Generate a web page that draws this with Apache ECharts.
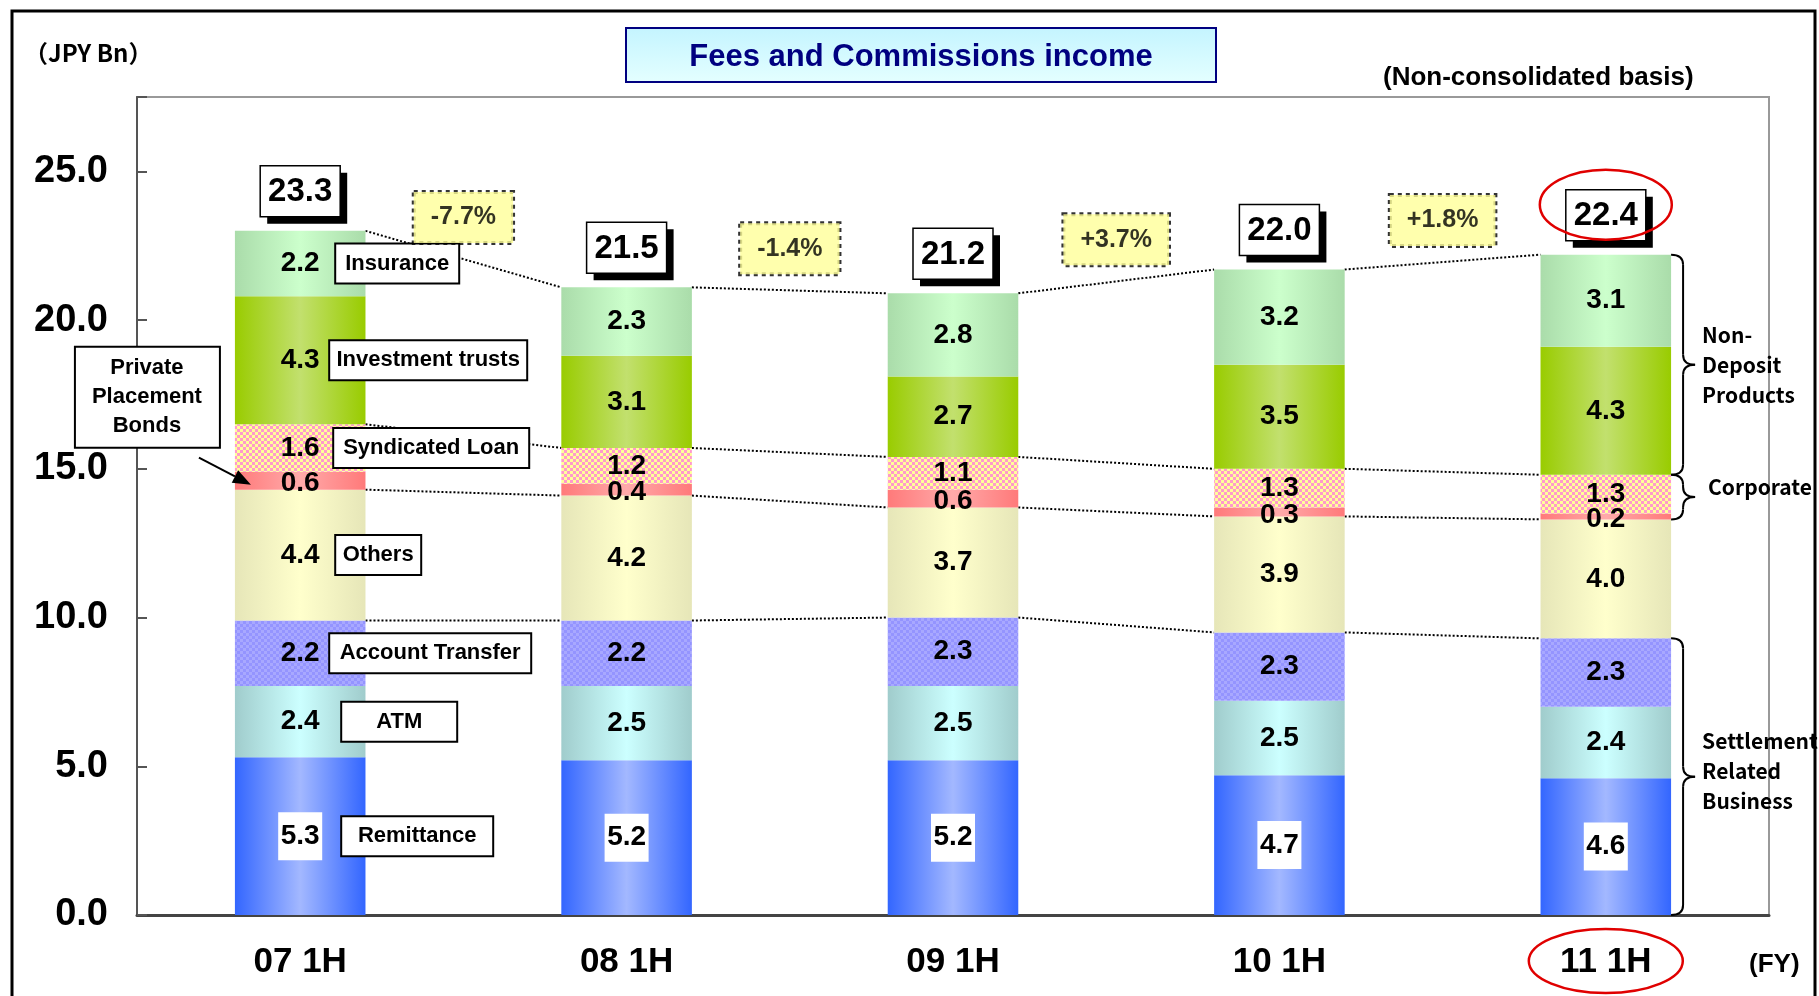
<!DOCTYPE html>
<html>
<head>
<meta charset="utf-8">
<script src="https://cdn.jsdelivr.net/npm/echarts@6/dist/echarts.min.js"></script>
<style>
html, body { margin: 0; padding: 0; background: #fff; }
#main { width: 1819px; height: 996px; }
</style>
</head>
<body>
<div id="main"></div>
<script>
// values (JPY Bn), stacked bottom -> top
const categories = ['07 1H', '08 1H', '09 1H', '10 1H', '11 1H'];
const remittance = [5.3, 5.2, 5.2, 4.7, 4.6];
const atm = [2.4, 2.5, 2.5, 2.5, 2.4];
const accountTransfer = [2.2, 2.2, 2.3, 2.3, 2.3];
const others = [4.4, 4.2, 3.7, 3.9, 4.0];
const privatePlacement = [0.6, 0.4, 0.6, 0.3, 0.2];
const syndicatedLoan = [1.6, 1.2, 1.1, 1.3, 1.3];
const investmentTrusts = [4.3, 3.1, 2.7, 3.5, 4.3];
const insurance = [2.2, 2.3, 2.8, 3.2, 3.1];
const totals = [23.3, 21.5, 21.2, 22.0, 22.4];
const growth = ['-7.7%', '-1.4%', '+3.7%', '+1.8%'];

const FONT = '"Liberation Sans", Arial, sans-serif';
const GOTHIC = '"Noto Sans CJK JP", "Liberation Sans", sans-serif';

function grad(edge, mid) {
  return new echarts.graphic.LinearGradient(0, 0, 1, 0, [
    { offset: 0, color: edge }, { offset: 0.5, color: mid }, { offset: 1, color: edge }
  ]);
}
function checker(a, b, cell) {
  const c = document.createElement('canvas');
  c.width = c.height = cell * 2;
  const g = c.getContext('2d');
  g.fillStyle = a; g.fillRect(0, 0, cell * 2, cell * 2);
  g.fillStyle = b; g.fillRect(0, 0, cell, cell); g.fillRect(cell, cell, cell, cell);
  return { image: c, repeat: 'repeat' };
}

const stacks = [
  { name: 'Remittance', data: remittance, color: grad('#3366ff', '#a3b8ff'), box: 150, gap: 20, white: true },
  { name: 'ATM', data: atm, color: grad('#a0cccc', '#ccffff'), box: 114, gap: 20 },
  { name: 'Account Transfer', data: accountTransfer, color: checker('#a8a8ff', '#9494ff', 3), box: 200, gap: 8 },
  { name: 'Others', data: others, color: grad('#e6e6b8', '#ffffcc'), box: 84, gap: 14 },
  { name: 'Private Placement Bonds', data: privatePlacement, color: grad('#ff7a7a', '#ffaaaa'), dy: 3 },
  { name: 'Syndicated Loan', data: syndicatedLoan, color: checker('#ffff99', '#ff99cc', 3), box: 194, gap: 12 },
  { name: 'Investment trusts', data: investmentTrusts, color: grad('#99cc00', '#c2e06e'), box: 196, gap: 8 },
  { name: 'Insurance', data: insurance, color: grad('#aadcaa', '#ccffcc'), box: 122, gap: 14 }
];

// cumulative tops of each layer
const cum = [];
stacks.forEach((s, k) => {
  cum[k] = s.data.map((v, i) => v + (k ? cum[k - 1][i] : 0));
});
const stackTop = cum[cum.length - 1];
const linkLevels = [2, 3, 5, 7];

const chart = echarts.init(document.getElementById('main'));

const barSeries = stacks.map((s, k) => ({
  name: s.name,
  type: 'bar',
  stack: 'fees',
  barWidth: '40%',
  data: s.data,
  itemStyle: { color: s.color },
  z: 3,
  label: {
    show: true,
    position: 'inside',
    align: 'left',
    offset: [-22, s.dy || 0],
    formatter: p => {
      const v = '{v|' + p.value.toFixed(1) + '}';
      return (p.dataIndex === 0 && s.box) ? v + '{s| }{n|' + s.name + '}' : v;
    },
    rich: {
      v: {
        width: 44, align: 'center', fontSize: 28, lineHeight: 30, fontWeight: 'bold',
        fontFamily: FONT, color: '#000',
        backgroundColor: s.white ? '#fff' : 'transparent',
        padding: s.white ? [10, 0] : 0
      },
      s: { width: s.gap || 10 },
      n: {
        width: s.box || 100, align: 'center', fontSize: 22, lineHeight: 26, fontWeight: 'bold',
        fontFamily: FONT, color: '#000', backgroundColor: '#fff',
        borderColor: '#000', borderWidth: 2, padding: [8, 0]
      }
    }
  }
}));

function renderLinks(params, api) {
  const i = api.value(0);
  const half = api.size([1, 0])[0] * 0.2;
  return {
    type: 'group',
    children: linkLevels.map(lv => {
      const a = api.coord([i, cum[lv][i]]);
      const b = api.coord([i + 1, cum[lv][i + 1]]);
      return {
        type: 'line',
        shape: { x1: a[0] + half, y1: a[1], x2: b[0] - half, y2: b[1] },
        style: { stroke: '#000', lineWidth: 2, lineDash: [2, 2] }
      };
    })
  };
}

// total boxes with a hard black drop shadow
function renderTotals(params, api) {
  const i = api.value(0);
  const p = api.coord([i, api.value(1)]);
  const w = 80, h = 51, x = p[0] - w / 2, y = p[1] - 14 - h;
  return {
    type: 'group',
    children: [
      { type: 'rect', shape: { x: x + 7, y: y + 7, width: w, height: h }, style: { fill: '#000' } },
      { type: 'rect', shape: { x: x, y: y, width: w, height: h }, style: { fill: '#fff', stroke: '#000', lineWidth: 1.5 } },
      {
        type: 'text', x: p[0], y: y + h / 2 + 1,
        style: {
          text: totals[i].toFixed(1), fontSize: 33, fontWeight: 'bold', fontFamily: FONT,
          fill: '#000', align: 'center', verticalAlign: 'middle'
        }
      }
    ]
  };
}

chart.setOption({
  animation: false,
  grid: { left: 137, top: 97, right: 50, bottom: 81, show: true, borderColor: '#999', borderWidth: 2 },
  xAxis: [{
    type: 'category',
    data: categories,
    axisLine: { lineStyle: { color: '#444', width: 3 } },
    axisTick: { inside: true, length: 13, lineStyle: { color: '#222', width: 1.5 } },
    axisLabel: { margin: 30, fontSize: 35, fontWeight: 'bold', fontFamily: FONT, color: '#000' }
  }, {
    type: 'value', min: -0.5, max: 4.5, show: false
  }],
  yAxis: {
    type: 'value',
    min: 0, max: 27.5, interval: 5,
    splitLine: { show: false },
    axisLine: { show: true, onZero: false, lineStyle: { color: '#555', width: 2 } },
    axisTick: { show: true, inside: true, length: 10, lineStyle: { color: '#555', width: 2 } },
    axisLabel: {
      margin: 29, fontSize: 38, fontWeight: 'bold', fontFamily: FONT, color: '#000',
      formatter: v => (v % 5 === 0 ? v.toFixed(1) : '')
    }
  },
  series: [
    {
      type: 'custom',
      renderItem: renderLinks,
      data: [0, 1, 2, 3].map(i => [i, 0]),
      encode: { x: 0, y: 1 },
      z: 1,
      silent: true
    },
    ...barSeries,
    {
      type: 'custom',
      renderItem: renderTotals,
      data: stackTop.map((t, i) => [i, t]),
      encode: { x: 0, y: 1 },
      z: 6,
      silent: true
    },
    {
      type: 'scatter',
      xAxisIndex: 1,
      data: growth.map((g, i) => [i + 0.5, (stackTop[i] + stackTop[i + 1]) / 2 + 1.4]),
      symbolSize: 1,
      itemStyle: { color: 'transparent' },
      z: 6,
      label: {
        show: true, position: 'inside',
        formatter: p => growth[p.dataIndex],
        fontSize: 25, lineHeight: 27, fontWeight: 'bold', fontFamily: FONT, color: '#000',
        backgroundColor: '#ffff99', borderColor: '#000', borderWidth: 2, borderType: 'dotted',
        padding: [12, 17]
      }
    }
  ]
});

// annotations anchored to the data through the axes
function px(x, y) {
  return [chart.convertToPixel({ xAxisIndex: 1 }, x), chart.convertToPixel({ yAxisIndex: 0 }, y)];
}

function brace(x, y1, y2, w) {
  const m = (y1 + y2) / 2, r = Math.min(10, (y2 - y1) / 4), h = x + w / 2;
  const st = { stroke: '#000', lineWidth: 2, fill: null };
  return [
    { type: 'bezierCurve', z: 100, shape: { x1: x, y1: y1, cpx1: h, cpy1: y1, x2: h, y2: y1 + r }, style: st },
    { type: 'line', z: 100, shape: { x1: h, y1: y1 + r, x2: h, y2: m - r }, style: st },
    { type: 'bezierCurve', z: 100, shape: { x1: h, y1: m - r, cpx1: h, cpy1: m, x2: x + w, y2: m }, style: st },
    { type: 'bezierCurve', z: 100, shape: { x1: x + w, y1: m, cpx1: h, cpy1: m, x2: h, y2: m + r }, style: st },
    { type: 'line', z: 100, shape: { x1: h, y1: m + r, x2: h, y2: y2 - r }, style: st },
    { type: 'bezierCurve', z: 100, shape: { x1: h, y1: y2 - r, cpx1: h, cpy1: y2, x2: x, y2: y2 }, style: st }
  ];
}

const last = categories.length - 1;
const barRight = px(last + 0.2, 0)[0];
const braces = [
  { from: cum[5][last], to: cum[7][last], text: 'Non-\nDeposit\nProducts', dx: 0, dy: 0 },
  { from: cum[3][last], to: cum[5][last], text: 'Corporate', dx: 6, dy: -10 },
  { from: 0, to: cum[2][last], text: 'Settlement\nRelated\nBusiness', dx: 0, dy: -6 }
];
const graphics = [];
braces.forEach(b => {
  const y1 = px(0, b.to)[1], y2 = px(0, b.from)[1];
  brace(barRight, y1, y2, 24).forEach(el => graphics.push(el));
  graphics.push({
    type: 'text', z: 100, x: barRight + 31 + b.dx, y: (y1 + y2) / 2 + b.dy,
    style: {
      text: b.text, fontSize: 21, lineHeight: 30, fontWeight: 'bold', fontFamily: GOTHIC,
      fill: '#000', align: 'left', verticalAlign: 'middle'
    }
  });
});

// Private Placement Bonds call-out on the first bar
const ppbMid = cum[3][0] + privatePlacement[0] / 2;
const tipBase = px(-0.2, ppbMid);
const tip = [tipBase[0] + 16, tipBase[1] + 4];
const tail = [tip[0] - 52, tip[1] - 27];
const len = Math.hypot(tip[0] - tail[0], tip[1] - tail[1]);
const d = [(tip[0] - tail[0]) / len, (tip[1] - tail[1]) / len];
const nrm = [-d[1], d[0]];
const headBase = [tip[0] - d[0] * 18, tip[1] - d[1] * 18];
graphics.push({
  type: 'line', z: 100,
  shape: { x1: tail[0], y1: tail[1], x2: headBase[0], y2: headBase[1] },
  style: { stroke: '#000', lineWidth: 2 }
});
graphics.push({
  type: 'polygon', z: 100,
  shape: { points: [tip, [headBase[0] + nrm[0] * 7, headBase[1] + nrm[1] * 7], [headBase[0] - nrm[0] * 7, headBase[1] - nrm[1] * 7]] },
  style: { fill: '#000' }
});
graphics.push({
  type: 'rect', z: 100,
  shape: { x: tip[0] - 104 - 72, y: tip[1] - 88 - 50, width: 145, height: 101 },
  style: { fill: '#fff', stroke: '#000', lineWidth: 2 }
});
graphics.push({
  type: 'text', z: 101, x: tip[0] - 104, y: tip[1] - 88,
  style: {
    text: 'Private\nPlacement\nBonds', fontSize: 22, lineHeight: 29, fontWeight: 'bold', fontFamily: FONT,
    fill: '#000', align: 'center', verticalAlign: 'middle'
  }
});

// red highlight around the latest period
const lastTop = px(last, stackTop[last]);
graphics.push({
  type: 'ellipse', z: 102,
  shape: { cx: lastTop[0], cy: lastTop[1] - 50, rx: 66, ry: 35 },
  style: { fill: null, stroke: '#e00000', lineWidth: 2.5 }
});
graphics.push({
  type: 'ellipse', z: 102,
  shape: { cx: lastTop[0], cy: px(0, 0)[1] + 46, rx: 77, ry: 32 },
  style: { fill: null, stroke: '#e00000', lineWidth: 2.5 }
});

// title box and side texts
graphics.push({
  type: 'rect', z: 100,
  shape: { x: 626, y: 28, width: 590, height: 54 },
  style: {
    fill: new echarts.graphic.LinearGradient(0, 0, 0, 1, [
      { offset: 0, color: '#c4f4ff' }, { offset: 1, color: '#e4ffff' }
    ]),
    stroke: '#000080', lineWidth: 2
  }
});
graphics.push({
  type: 'text', z: 101, x: 921, y: 57,
  style: {
    text: 'Fees and Commissions income', fontSize: 31, fontWeight: 'bold', fontFamily: FONT,
    fill: '#000080', align: 'center', verticalAlign: 'middle'
  }
});
graphics.push({
  type: 'text', z: 100, x: 24, y: 53,
  style: { text: '（JPY Bn）', fontSize: 24, fontWeight: 'bold', fontFamily: GOTHIC, fill: '#000', verticalAlign: 'middle' }
});
graphics.push({
  type: 'text', z: 100, x: 1383, y: 78,
  style: { text: '(Non-consolidated basis)', fontSize: 26, fontWeight: 'bold', fontFamily: FONT, fill: '#000', verticalAlign: 'middle' }
});
graphics.push({
  type: 'text', z: 100, x: 1749, y: 965,
  style: { text: '(FY)', fontSize: 26, fontWeight: 'bold', fontFamily: FONT, fill: '#000', verticalAlign: 'middle' }
});
graphics.push({
  type: 'rect', z: 99,
  shape: { x: 12, y: 11, width: 1803, height: 1000 },
  style: { fill: null, stroke: '#000', lineWidth: 3 }
});

chart.setOption({ graphic: graphics });
</script>
</body>
</html>
